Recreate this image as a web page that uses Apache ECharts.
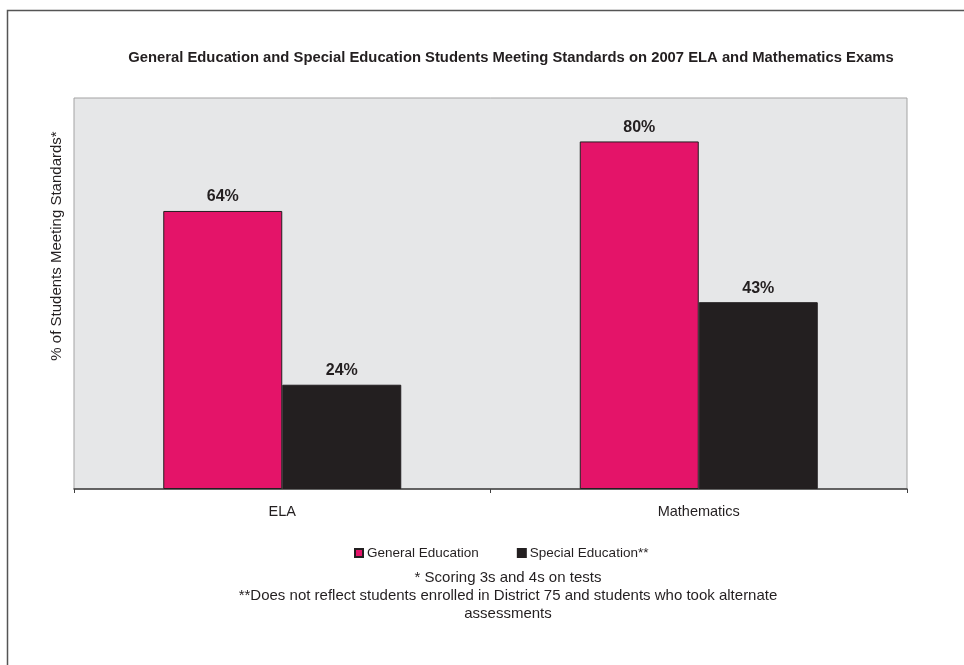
<!DOCTYPE html>
<html><head><meta charset="utf-8">
<script src="https://cdn.jsdelivr.net/npm/echarts@6/dist/echarts.min.js"></script>
<style>html,body{margin:0;padding:0;background:#fff}#c{width:964px;height:665px}</style>
</head><body><div id="c"></div>
<script>
const categories = ['ELA', 'Mathematics'];
const seriesNames = ['General Education', 'Special Education**'];
const generalEd = [64, 80];
const specialEd = [24, 43];
const titleText = 'General Education and Special Education Students Meeting Standards on 2007 ELA and Mathematics Exams';
const yAxisTitle = '% of Students Meeting Standards*';
const footnotes = ['* Scoring 3s and 4s on tests', '**Does not reflect students enrolled in District 75 and students who took alternate', 'assessments'];

const FONT = '"Liberation Sans", Arial, sans-serif';
const INK = '#231f20';
const chart = echarts.init(document.getElementById('c'));
chart.setOption({
  animation: false,
  backgroundColor: '#fff',
  textStyle: { fontFamily: FONT },
  title: {
    text: titleText, left: 506, top: 45, textAlign: 'center',
    textStyle: { fontSize: 14.8, fontWeight: 'bold', color: INK, fontFamily: FONT }
  },
  grid: { left: 74, right: 57, top: 98, bottom: 176, show: true, backgroundColor: '#e6e7e8', borderColor: '#a3a3a3', borderWidth: 1 },
  legend: {
    data: seriesNames, left: 349, top: 541, itemWidth: 8, itemHeight: 8, itemGap: 38,
    icon: 'rect',
    textStyle: { fontSize: 13.5, color: INK, fontFamily: FONT, padding: [0, 0, 0, -1] }
  },
  xAxis: {
    type: 'category', data: categories,
    axisLine: { lineStyle: { color: '#404040', width: 1.5 } },
    axisTick: { show: true, length: 4, lineStyle: { color: '#404040' } },
    axisLabel: { fontSize: 14.5, color: INK, margin: 15, fontFamily: FONT }
  },
  yAxis: {
    type: 'value', min: 0, max: 90,
    axisLine: { show: false }, axisTick: { show: false }, axisLabel: { show: false }, splitLine: { show: false }
  },
  series: [
    { name: seriesNames[0], type: 'bar', data: generalEd, barWidth: 119, barGap: '0%',
      itemStyle: { color: '#e41469', borderColor: INK, borderWidth: 1 },
      label: { show: true, position: 'top', distance: 6, formatter: '{c}%', fontSize: 16, fontWeight: 'bold', color: INK, fontFamily: FONT } },
    { name: seriesNames[1], type: 'bar', data: specialEd, barWidth: 119, barGap: '0%',
      itemStyle: { color: INK, borderColor: INK, borderWidth: 1 },
      label: { show: true, position: 'top', distance: 6, formatter: '{c}%', fontSize: 16, fontWeight: 'bold', color: INK, fontFamily: FONT } }
  ],
  graphic: [
    { type: 'rect', shape: { x: 7.5, y: 10.5, width: 1000, height: 1000 }, style: { fill: 'none', stroke: '#555', lineWidth: 1.5 }, silent: true, z: -10 },
    { type: 'text', x: 57, y: 246, rotation: Math.PI / 2, style: { text: yAxisTitle, fontSize: 15, fill: INK, fontFamily: FONT, textAlign: 'center', textVerticalAlign: 'middle' } },
    { type: 'text', x: 508, y: 578, style: { text: footnotes[0], fontSize: 15, fill: INK, fontFamily: FONT, textAlign: 'center', textVerticalAlign: 'middle' } },
    { type: 'text', x: 508, y: 596, style: { text: footnotes[1], fontSize: 15, fill: INK, fontFamily: FONT, textAlign: 'center', textVerticalAlign: 'middle' } },
    { type: 'text', x: 508, y: 614, style: { text: footnotes[2], fontSize: 15, fill: INK, fontFamily: FONT, textAlign: 'center', textVerticalAlign: 'middle' } }
  ]
});
</script></body></html>
